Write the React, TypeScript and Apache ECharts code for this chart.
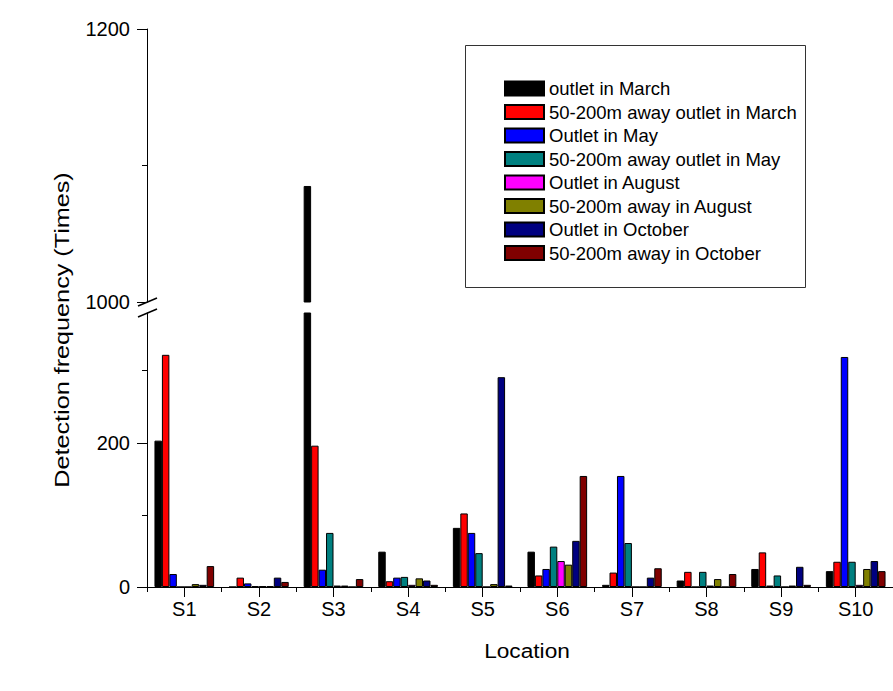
import React, { useEffect, useRef } from 'react';
import * as echarts from 'echarts';

const locations = ['S1', 'S2', 'S3', 'S4', 'S5', 'S6', 'S7', 'S8', 'S9', 'S10'];

const outletMarch = [203, 0, 1085, 49, 82, 49, 3, 9, 25, 22];
const awayMarch = [322, 13, 196, 8, 102, 16, 20, 21, 48, 35];
const outletMay = [18, 5, 24, 13, 75, 25, 154, 0, 2, 319];
const awayMay = [0, 1, 75, 14, 47, 56, 61, 21, 16, 35];
const outletAugust = [0, 1, 2, 3, 0, 36, 0, 2, 0, 3];
const awayAugust = [4, 1, 2, 12, 4, 31, 0, 11, 2, 25];
const outletOctober = [3, 13, 0, 9, 291, 64, 13, 0, 28, 36];
const awayOctober = [29, 7, 11, 3, 2, 154, 26, 18, 3, 22];

const seriesNames = [
  'outlet in March',
  '50-200m away outlet in March',
  'Outlet in May',
  '50-200m away outlet in May',
  'Outlet in August',
  '50-200m away in August',
  'Outlet in October',
  '50-200m away in October',
];
const seriesData = [
  outletMarch,
  awayMarch,
  outletMay,
  awayMay,
  outletAugust,
  awayAugust,
  outletOctober,
  awayOctober,
];
const seriesColors = ['#000000', '#FF0000', '#0000FF', '#008080', '#FF00FF', '#808000', '#000080', '#800000'];

const upperRange = [1000, 1200];
const upperMajorTicks = [1000, 1200];
const upperMinorTicks = [1100];
const lowerRange = [0, 380];
const lowerMajorTicks = [0, 200];
const lowerMinorTicks = [100, 300];

const FONT = 'Arial, "Liberation Sans", sans-serif';

export default function App() {
  const ref = useRef<HTMLDivElement>(null);

  useEffect(() => {
    if (!ref.current) return;
    const chart = echarts.init(ref.current, undefined, { renderer: 'svg' });

    const gridLeft = 147;
    const gridWidth = 756;

    const upperSeries = seriesNames.map((name, i) => ({
      name,
      type: 'bar',
      xAxisIndex: 0,
      yAxisIndex: 0,
      barGap: '0%',
      barCategoryGap: '20%',
      itemStyle: { color: seriesColors[i], borderColor: '#000', borderWidth: 1 },
      data: seriesData[i].map((v) => (v >= upperRange[0] ? v : '-')),
    }));
    const lowerSeries = seriesNames.map((name, i) => ({
      name,
      type: 'bar',
      xAxisIndex: 1,
      yAxisIndex: 2,
      barGap: '0%',
      barCategoryGap: '20%',
      itemStyle: { color: seriesColors[i], borderColor: '#000', borderWidth: 1 },
      data: seriesData[i],
    }));

    const axisLineStyle = { color: '#000', width: 1 };
    const plain = (v: number) => String(v);

    chart.setOption({
      animation: false,
      backgroundColor: '#ffffff',
      textStyle: { fontFamily: FONT },
      grid: [
        { left: gridLeft, width: gridWidth, top: 29, height: 273 },
        { left: gridLeft, width: gridWidth, top: 313, height: 274 },
      ],
      legend: {
        data: seriesNames,
        orient: 'vertical',
        left: 499,
        top: 74,
        itemWidth: 39,
        itemHeight: 14,
        itemGap: 4.5,
        icon: 'rect',
        textStyle: { fontSize: 18.5, color: '#000', fontFamily: FONT },
        selectedMode: false,
      },
      xAxis: [
        { type: 'category', gridIndex: 0, data: locations, show: false },
        {
          type: 'category',
          gridIndex: 1,
          position: 'bottom',
          data: locations,
          axisLine: { show: true, lineStyle: axisLineStyle },
          axisTick: { show: true, alignWithLabel: true, length: 10, lineStyle: axisLineStyle },
          axisLabel: { fontSize: 20, color: '#000', margin: 12, fontFamily: FONT },
          splitLine: { show: false },
        },
        {
          type: 'category',
          gridIndex: 1,
          position: 'bottom',
          data: locations,
          axisLine: { show: false },
          axisTick: { show: true, length: 5, lineStyle: axisLineStyle },
          axisLabel: { show: false },
          splitLine: { show: false },
        },
      ],
      yAxis: [
        {
          type: 'value',
          gridIndex: 0,
          position: 'left',
          min: upperRange[0],
          max: upperRange[1],
          axisLine: { show: true, lineStyle: axisLineStyle },
          axisTick: { show: true, length: 10, customValues: upperMajorTicks, lineStyle: axisLineStyle },
          axisLabel: {
            customValues: upperMajorTicks,
            formatter: plain,
            fontSize: 20,
            color: '#000',
            margin: 17,
            fontFamily: FONT,
          },
          splitLine: { show: false },
        },
        {
          type: 'value',
          gridIndex: 0,
          position: 'left',
          min: upperRange[0],
          max: upperRange[1],
          axisLine: { show: false },
          axisTick: { show: true, length: 5, customValues: upperMinorTicks, lineStyle: axisLineStyle },
          axisLabel: { show: false },
          splitLine: { show: false },
        },
        {
          type: 'value',
          gridIndex: 1,
          position: 'left',
          min: lowerRange[0],
          max: lowerRange[1],
          axisLine: { show: true, lineStyle: axisLineStyle },
          axisTick: { show: true, length: 10, customValues: lowerMajorTicks, lineStyle: axisLineStyle },
          axisLabel: {
            customValues: lowerMajorTicks,
            formatter: plain,
            fontSize: 20,
            color: '#000',
            margin: 17,
            fontFamily: FONT,
          },
          splitLine: { show: false },
        },
        {
          type: 'value',
          gridIndex: 1,
          position: 'left',
          min: lowerRange[0],
          max: lowerRange[1],
          axisLine: { show: false },
          axisTick: { show: true, length: 5, customValues: lowerMinorTicks, lineStyle: axisLineStyle },
          axisLabel: { show: false },
          splitLine: { show: false },
        },
      ],
      graphic: [
        {
          type: 'rect',
          shape: { x: 465.5, y: 45.5, width: 340, height: 242 },
          style: { fill: 'none', stroke: '#333', lineWidth: 1 },
          silent: true,
        },
        {
          type: 'line',
          shape: { x1: 138, y1: 306, x2: 157, y2: 298 },
          style: { stroke: '#000', lineWidth: 1.5 },
          silent: true,
        },
        {
          type: 'line',
          shape: { x1: 138, y1: 317, x2: 157, y2: 309 },
          style: { stroke: '#000', lineWidth: 1.5 },
          silent: true,
        },
        {
          type: 'text',
          x: 527,
          y: 651,
          scaleX: 1.08,
          style: {
            text: 'Location',
            fontSize: 21,
            fontFamily: FONT,
            fill: '#000',
            align: 'center',
            verticalAlign: 'middle',
          },
          silent: true,
        },
        {
          type: 'text',
          x: 62,
          y: 330,
          rotation: Math.PI / 2,
          scaleX: 1.2,
          style: {
            text: 'Detection frequency (Times)',
            fontSize: 21,
            fontFamily: FONT,
            fill: '#000',
            align: 'center',
            verticalAlign: 'middle',
          },
          silent: true,
        },
      ],
      series: [...upperSeries, ...lowerSeries],
    });

    return () => {
      chart.dispose();
    };
  }, []);

  return (
    <div
      ref={ref}
      style={{ position: 'absolute', left: 0, top: 0, width: 893, height: 691, background: '#fff' }}
    />
  );
}
